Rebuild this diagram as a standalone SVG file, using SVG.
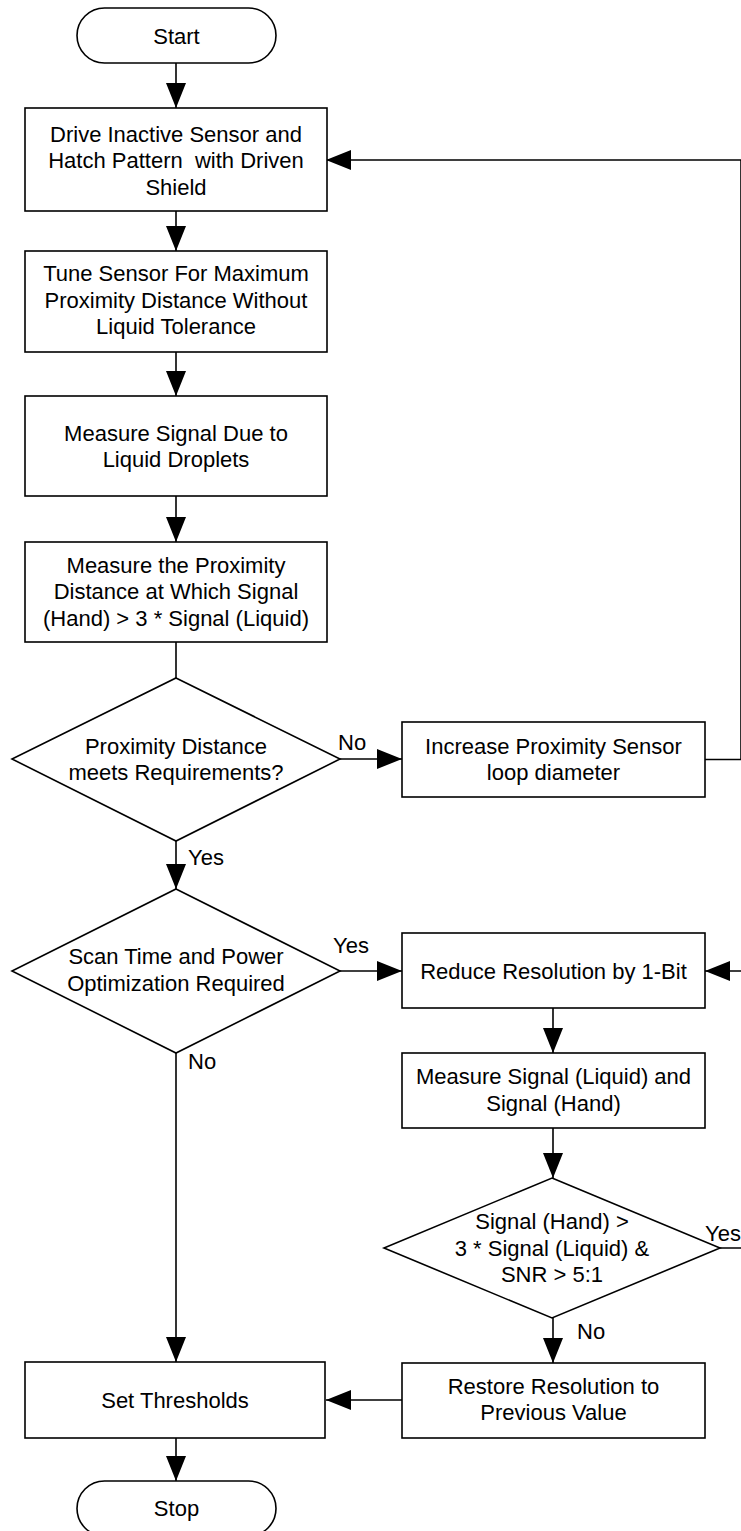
<svg xmlns="http://www.w3.org/2000/svg" width="741" height="1531" viewBox="0 0 741 1531">
  <style>
    .shape { fill: #ffffff; stroke: #000000; stroke-width: 1.6; }
    .wire { fill: none; stroke: #000000; stroke-width: 1.6; }
    .arrow { marker-end: url(#head); }
    text { font-family: "Liberation Sans", Arial, sans-serif; font-size: 22px; fill: #000000; }
    .c { text-anchor: middle; }
    .pre { white-space: pre; }
  </style>
  <defs>
    <marker id="head" markerUnits="userSpaceOnUse" markerWidth="25" markerHeight="20" refX="25" refY="10" orient="auto">
      <path d="M0,0 L25,10 L0,20 Z" fill="#000000"/>
    </marker>
  </defs>
  <rect width="741" height="1531" fill="#ffffff"/>

  <!-- connectors -->
  <g id="connectors">
    <path class="wire arrow" d="M176,63 V108"/>
    <path class="wire arrow" d="M176,211 V251"/>
    <path class="wire arrow" d="M176,352 V396"/>
    <path class="wire arrow" d="M176,496 V542"/>
    <path class="wire" d="M176,642 V678"/>
    <path class="wire arrow" d="M340,759 H402"/>
    <path class="wire arrow" d="M705,759.5 H741 V160 H326"/>
    <path class="wire arrow" d="M176,841 V889"/>
    <path class="wire arrow" d="M340,971 H402"/>
    <path class="wire arrow" d="M176,1053 V1362"/>
    <path class="wire arrow" d="M553,1008 V1053"/>
    <path class="wire arrow" d="M553,1128 V1178"/>
    <path class="wire arrow" d="M553,1318 V1363"/>
    <path class="wire arrow" d="M720,1248 H760 V971 H705"/>
    <path class="wire arrow" d="M402,1400 H326"/>
    <path class="wire arrow" d="M176,1438 V1481"/>
    <text x="338" y="750">No</text>
    <text x="188" y="865">Yes</text>
    <text x="333" y="953">Yes</text>
    <text x="188" y="1069">No</text>
    <text x="705" y="1241">Yes</text>
    <text x="577" y="1339">No</text>
  </g>

  <g id="start">
    <rect class="shape" x="77" y="8" width="199" height="55" rx="27.5"/>
    <text class="c" x="176.5" y="43.5">Start</text>
  </g>

  <g id="drive-shield">
    <rect class="shape" x="25" y="108" width="302" height="103"/>
    <text class="c" x="176" y="141.5">Drive Inactive Sensor and</text>
    <text class="c pre" x="176" y="168" xml:space="preserve">Hatch Pattern  with Driven</text>
    <text class="c" x="176" y="194.5">Shield</text>
  </g>

  <g id="tune-sensor">
    <rect class="shape" x="25" y="251" width="302" height="101"/>
    <text class="c" x="176" y="281">Tune Sensor For Maximum</text>
    <text class="c" x="176" y="307.5">Proximity Distance Without</text>
    <text class="c" x="176" y="334">Liquid Tolerance</text>
  </g>

  <g id="measure-droplets">
    <rect class="shape" x="25" y="396" width="302" height="100"/>
    <text class="c" x="176" y="440.5">Measure Signal Due to</text>
    <text class="c" x="176" y="467">Liquid Droplets</text>
  </g>

  <g id="measure-distance">
    <rect class="shape" x="25" y="542" width="302" height="100"/>
    <text class="c" x="176" y="572.5">Measure the Proximity</text>
    <text class="c" x="176" y="599">Distance at Which Signal</text>
    <text class="c" x="176" y="625.5">(Hand) &gt; 3 * Signal (Liquid)</text>
  </g>

  <g id="distance-check">
    <polygon class="shape" points="176,678 340,759 176,841 12,759"/>
    <text class="c" x="176" y="753.5">Proximity Distance</text>
    <text class="c" x="176" y="780">meets Requirements?</text>
  </g>

  <g id="increase-loop">
    <rect class="shape" x="402" y="722" width="303" height="75"/>
    <text class="c" x="553.5" y="753.5">Increase Proximity Sensor</text>
    <text class="c" x="553.5" y="780">loop diameter</text>
  </g>

  <g id="optimization-check">
    <polygon class="shape" points="176,889 340,971 176,1053 12,971"/>
    <text class="c" x="176" y="964">Scan Time and Power</text>
    <text class="c" x="176" y="990.5">Optimization Required</text>
  </g>

  <g id="reduce-resolution">
    <rect class="shape" x="402" y="933" width="303" height="75"/>
    <text class="c" x="553.5" y="978.5">Reduce Resolution by 1-Bit</text>
  </g>

  <g id="measure-signals">
    <rect class="shape" x="402" y="1053" width="303" height="75"/>
    <text class="c" x="553.5" y="1084">Measure Signal (Liquid) and</text>
    <text class="c" x="553.5" y="1110.5">Signal (Hand)</text>
  </g>

  <g id="snr-check">
    <polygon class="shape" points="552,1178 720,1248 552,1318 384,1248"/>
    <text class="c" x="552" y="1229">Signal (Hand) &gt;</text>
    <text class="c" x="552" y="1255.5">3 * Signal (Liquid) &amp;</text>
    <text class="c" x="552" y="1282">SNR &gt; 5:1</text>
  </g>

  <g id="restore-resolution">
    <rect class="shape" x="402" y="1363" width="303" height="75"/>
    <text class="c" x="553.5" y="1393.5">Restore Resolution to</text>
    <text class="c" x="553.5" y="1420">Previous Value</text>
  </g>

  <g id="set-thresholds">
    <rect class="shape" x="25" y="1362" width="300" height="76"/>
    <text class="c" x="175" y="1407.5">Set Thresholds</text>
  </g>

  <g id="stop">
    <rect class="shape" x="77" y="1481" width="199" height="55" rx="27.5"/>
    <text class="c" x="176.5" y="1516">Stop</text>
  </g>
</svg>
